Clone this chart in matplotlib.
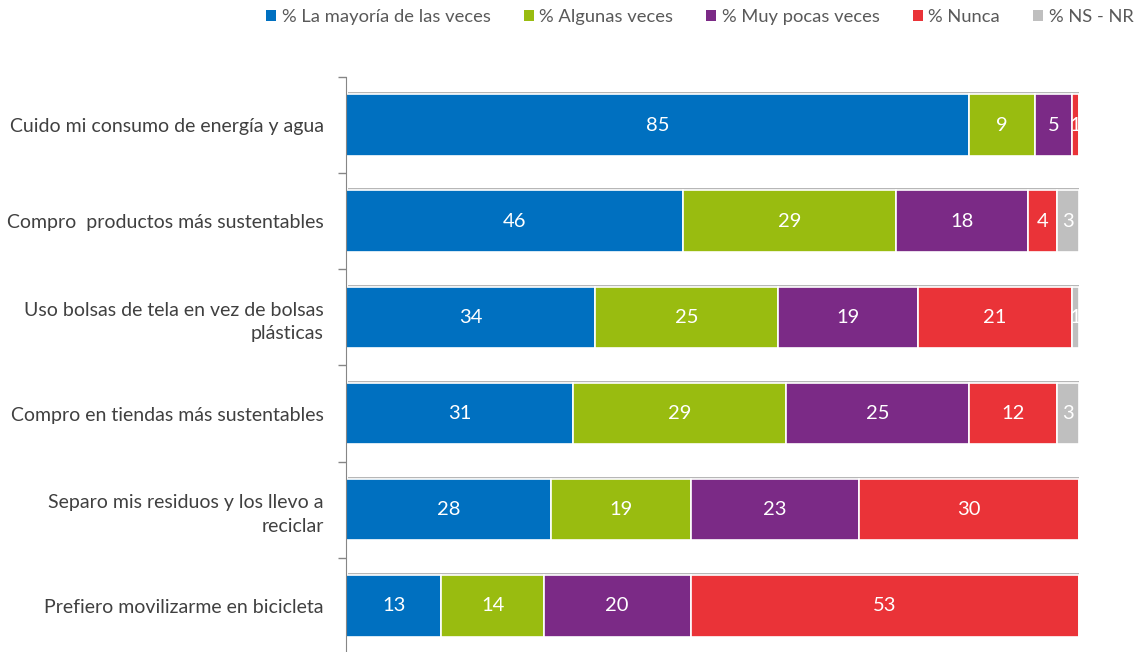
import matplotlib.pyplot as plt
import matplotlib.patheffects as pe
from matplotlib.patches import Patch
from matplotlib.ticker import FixedLocator

CATEGORIES = ['Cuido mi consumo de energía y agua',
              'Compro  productos más sustentables',
              'Uso bolsas de tela en vez de bolsas\nplásticas',
              'Compro en tiendas más sustentables',
              'Separo mis residuos y los llevo a\nreciclar',
              'Prefiero movilizarme en bicicleta']

SERIES = ['% La mayoría de las veces', '% Algunas veces', '% Muy pocas veces', '% Nunca', '% NS - NR']
MAYORIA = [85, 46, 34, 31, 28, 13]
ALGUNAS = [9, 29, 25, 29, 19, 14]
POCAS = [5, 18, 19, 25, 23, 20]
NUNCA = [1, 4, 21, 12, 30, 53]
NSNR = [0, 3, 1, 3, 0, 0]

COLORS = ['#0070C0', '#99BC10', '#7B2A86', '#EA3338', '#BFBFBF']

plt.rcParams['font.family'] = ['Lato', 'DejaVu Sans']

fig = plt.figure(figsize=(11.43, 6.52), dpi=100)
ax = fig.add_axes([346 / 1143, -0.003, (1079 - 346) / 1143, 1 - 77 / 652 + 0.003])

ypos = list(range(len(CATEGORIES)))
left = [0] * len(CATEGORIES)
shadow = [pe.SimplePatchShadow(offset=(1.5, 1.5), shadow_rgbFace='#707070', alpha=0.5), pe.Normal()]
for name, vals, col in zip(SERIES, [MAYORIA, ALGUNAS, POCAS, NUNCA, NSNR], COLORS):
    bars = ax.barh(ypos, vals, left=left, height=0.64, color=col, edgecolor='white',
                   linewidth=1.2)
    for b, v in zip(bars, vals):
        b.set_path_effects(shadow)
        if v > 0:
            ax.text(b.get_x() + b.get_width() / 2, b.get_y() + b.get_height() / 2, str(v),
                    ha='center', va='center', color='white', fontsize=14.5)
    left = [l + v for l, v in zip(left, vals)]

ax.set_xlim(0, 100)
ax.set_ylim(len(CATEGORIES) - 0.5, -0.5)
ax.set_yticks(ypos)
ax.set_yticklabels(CATEGORIES, fontsize=14, color='#404040', linespacing=1.45)
ax.tick_params(axis='y', which='major', length=0, pad=16)
ax.yaxis.set_minor_locator(FixedLocator([i - 0.5 for i in range(len(CATEGORIES) + 1)]))
ax.tick_params(axis='y', which='minor', length=6, color='#868686', width=1)
for lbl in ax.get_yticklabels():
    lbl.set_multialignment('right')
ax.set_xticks([])
for s in ['top', 'right', 'bottom']:
    ax.spines[s].set_visible(False)
ax.spines['left'].set_color('#868686')

handles = [Patch(facecolor=c, edgecolor='none') for c in COLORS]
leg = fig.legend(handles, SERIES, loc='upper right', bbox_to_anchor=(1.006, 1.012), ncol=5,
                 frameon=False, fontsize=13.2, handlelength=0.55, handleheight=0.55,
                 handletextpad=0.3, columnspacing=1.8, labelcolor='#595959')

fig.savefig('out.png')
